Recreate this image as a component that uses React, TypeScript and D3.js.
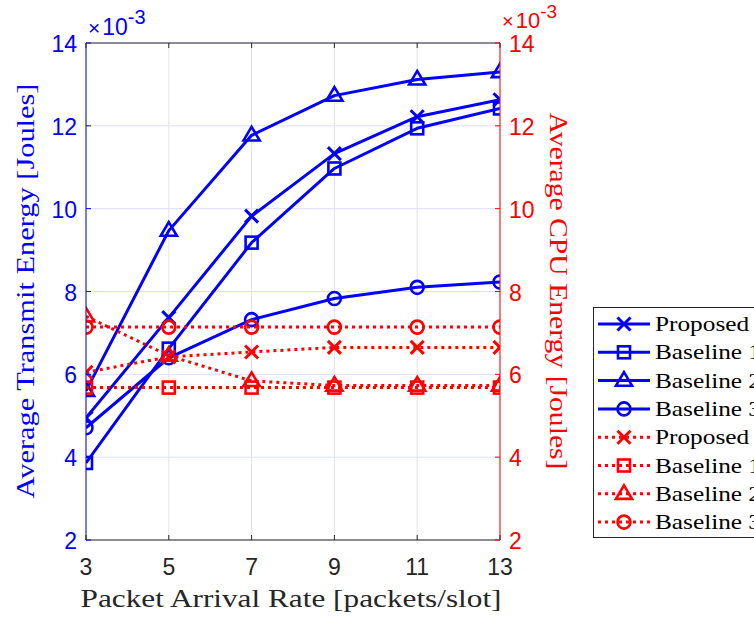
import React from "react";
import * as d3 from "d3";

const xValues = [3, 5, 7, 9, 11, 13];
const xTicks = [3, 5, 7, 9, 11, 13];
const yTicks = [2, 4, 6, 8, 10, 12, 14];

// Transmit energy (x1e-3 J), left axis
const txProposed = [4.95, 7.37, 9.82, 11.33, 12.22, 12.63];
const txBaseline1 = [3.86, 6.62, 9.18, 10.97, 11.94, 12.42];
const txBaseline2 = [5.6, 9.47, 11.77, 12.73, 13.12, 13.3];
const txBaseline3 = [4.71, 6.4, 7.32, 7.83, 8.1, 8.23];

// CPU energy (x1e-3 J), right axis
const cpuProposed = [6.05, 6.42, 6.54, 6.65, 6.65, 6.65];
const cpuBaseline1 = [5.68, 5.68, 5.68, 5.68, 5.68, 5.68];
const cpuBaseline2 = [7.4, 6.45, 5.84, 5.73, 5.73, 5.73];
const cpuBaseline3 = [7.14, 7.14, 7.14, 7.14, 7.14, 7.14];

const legendLabels = [
  "Proposed",
  "Baseline 1",
  "Baseline 2",
  "Baseline 3",
  "Proposed",
  "Baseline 1",
  "Baseline 2",
  "Baseline 3",
];

type Mk = "x" | "square" | "triangle" | "circle";

const BLUE = "#0000ff";
const RED = "#ff0000";

function Marker({ type, x, y, color }: { type: Mk; x: number; y: number; color: string }) {
  const sw = 2.6;
  if (type === "x") {
    const r = 6.5;
    return (
      <path
        d={`M${x - r},${y - r}L${x + r},${y + r}M${x - r},${y + r}L${x + r},${y - r}`}
        stroke={color}
        strokeWidth={sw + 0.4}
        fill="none"
      />
    );
  }
  if (type === "square") {
    const r = 6;
    return <rect x={x - r} y={y - r} width={2 * r} height={2 * r} stroke={color} strokeWidth={sw} fill="none" />;
  }
  if (type === "triangle") {
    const r = 8.5;
    return (
      <path
        d={`M${x},${y - r}L${x + r * 0.95},${y + r * 0.6}L${x - r * 0.95},${y + r * 0.6}Z`}
        stroke={color}
        strokeWidth={sw}
        fill="none"
        strokeLinejoin="miter"
      />
    );
  }
  return <circle cx={x} cy={y} r={6.5} stroke={color} strokeWidth={sw} fill="none" />;
}

export default function App() {
  const W = 754;
  const H = 617;
  const left = 86;
  const right = 500;
  const top = 43;
  const bottom = 540;

  const x = d3.scaleLinear().domain([3, 13]).range([left, right]);
  const yL = d3.scaleLinear().domain([2, 14]).range([bottom, top]);
  const yR = d3.scaleLinear().domain([2, 14]).range([bottom, top]);

  const series = [
    { data: txProposed, color: BLUE, mk: "x" as Mk, dotted: false, y: yL },
    { data: txBaseline1, color: BLUE, mk: "square" as Mk, dotted: false, y: yL },
    { data: txBaseline2, color: BLUE, mk: "triangle" as Mk, dotted: false, y: yL },
    { data: txBaseline3, color: BLUE, mk: "circle" as Mk, dotted: false, y: yL },
    { data: cpuProposed, color: RED, mk: "x" as Mk, dotted: true, y: yR },
    { data: cpuBaseline1, color: RED, mk: "square" as Mk, dotted: true, y: yR },
    { data: cpuBaseline2, color: RED, mk: "triangle" as Mk, dotted: true, y: yR },
    { data: cpuBaseline3, color: RED, mk: "circle" as Mk, dotted: true, y: yR },
  ];

  const tickFont = "'Liberation Sans', Arial, sans-serif";
  const latex = "'Liberation Serif', 'Times New Roman', serif";
  const SX = 1.15;

  const legX = 593;
  const legY = 307;
  const legH = 230;
  const legStep = 28.3;

  return (
    <svg width={W} height={H} style={{ position: "absolute", left: 0, top: 0, background: "#fff" }}>
      <defs>
        <clipPath id="plotClip">
          <rect x={left} y={top} width={right - left} height={bottom - top} />
        </clipPath>
      </defs>
      <rect x={0} y={0} width={W} height={H} fill="#fff" />

      {/* grid */}
      {xTicks.map((t) => (
        <line key={"gx" + t} x1={x(t)} x2={x(t)} y1={top} y2={bottom} stroke="#e3e3e3" strokeWidth={1} />
      ))}
      {yTicks.map((t) => (
        <line key={"gy" + t} x1={left} x2={right} y1={yL(t)} y2={yL(t)} stroke="#dedeff" strokeWidth={1} />
      ))}

      {/* series */}
      <g clipPath="url(#plotClip)">
        {series.map((s, i) => {
          const line = d3
            .line<number>()
            .x((_, j) => x(xValues[j]))
            .y((v) => s.y(v));
          return (
            <g key={"s" + i}>
              <path
                d={line(s.data) || ""}
                stroke={s.color}
                strokeWidth={3}
                fill="none"
                strokeDasharray={s.dotted ? "3,4" : undefined}
                strokeLinejoin="round"
              />
              {s.data.map((v, j) => (
                <Marker key={j} type={s.mk} x={x(xValues[j])} y={s.y(v)} color={s.color} />
              ))}
            </g>
          );
        })}
      </g>

      {/* axes box */}
      <line x1={left} x2={right} y1={top} y2={top} stroke="#262626" strokeWidth={1} />
      <line x1={left} x2={right} y1={bottom} y2={bottom} stroke="#262626" strokeWidth={1} />
      <line x1={left} x2={left} y1={top} y2={bottom} stroke={BLUE} strokeWidth={1} />
      <line x1={right} x2={right} y1={top} y2={bottom} stroke={RED} strokeWidth={1} />

      {/* x ticks */}
      {xTicks.map((t) => (
        <g key={"xt" + t}>
          <line x1={x(t)} x2={x(t)} y1={bottom} y2={bottom - 5} stroke="#262626" />
          <line x1={x(t)} x2={x(t)} y1={top} y2={top + 5} stroke="#262626" />
          <text x={x(t)} y={bottom + 35} textAnchor="middle" fontFamily={tickFont} fontSize={23} fill="#262626">
            {t}
          </text>
        </g>
      ))}

      {/* left y ticks */}
      {yTicks.map((t) => (
        <g key={"yl" + t}>
          <line x1={left} x2={left + 5} y1={yL(t)} y2={yL(t)} stroke={BLUE} />
          <text x={left - 9} y={yL(t) + 9} textAnchor="end" fontFamily={tickFont} fontSize={23} fill={BLUE}>
            {t}
          </text>
        </g>
      ))}
      {/* right y ticks */}
      {yTicks.map((t) => (
        <g key={"yr" + t}>
          <line x1={right} x2={right - 5} y1={yR(t)} y2={yR(t)} stroke={RED} />
          <text x={right + 9} y={yR(t) + 9} textAnchor="start" fontFamily={tickFont} fontSize={23} fill={RED}>
            {t}
          </text>
        </g>
      ))}

      {/* exponents */}
      <text x={88} y={35} fontFamily={tickFont} fontSize={23} fill={BLUE}>
        <tspan fontSize={21}>×</tspan>
        <tspan dx={2}>10</tspan>
        <tspan dy={-11} fontSize={20}>-3</tspan>
      </text>
      <text x={502} y={28} fontFamily={tickFont} fontSize={22} fill={RED}>
        <tspan fontSize={20}>×</tspan>
        <tspan dx={2}>10</tspan>
        <tspan dy={-10} fontSize={19}>-3</tspan>
      </text>

      {/* axis labels */}
      <text
        x={291}
        y={607}
        textAnchor="middle"
        fontFamily={latex}
        fontSize={26}
        fill="#262626"
        textLength={421}
        lengthAdjust="spacingAndGlyphs"
      >
        Packet Arrival Rate [packets/slot]
      </text>
      <text
        transform={`translate(34,291) rotate(-90)`}
        textAnchor="middle"
        fontFamily={latex}
        fontSize={26}
        fill={BLUE}
        textLength={415}
        lengthAdjust="spacingAndGlyphs"
      >
        Average Transmit Energy [Joules]
      </text>
      <text
        transform={`translate(550,291) rotate(90)`}
        textAnchor="middle"
        fontFamily={latex}
        fontSize={26}
        fill={RED}
        textLength={357}
        lengthAdjust="spacingAndGlyphs"
      >
        Average CPU Energy [Joules]
      </text>

      {/* legend */}
      <rect x={legX + 0.5} y={legY + 0.5} width={W} height={legH} fill="#fff" stroke="#262626" strokeWidth={1} />
      {series.map((s, i) => {
        const cy = legY + 17 + i * legStep;
        return (
          <g key={"lg" + i}>
            <line
              x1={legX + 5}
              x2={legX + 57}
              y1={cy}
              y2={cy}
              stroke={s.color}
              strokeWidth={3}
              strokeDasharray={s.dotted ? "3,4" : undefined}
            />
            <Marker type={s.mk} x={legX + 31} y={cy} color={s.color} />
            <text
              transform={`translate(${legX + 62},${cy + 7}) scale(${SX},1)`}
              fontFamily={latex}
              fontSize={22}
              fill="#000"
            >
              {legendLabels[i]}
            </text>
          </g>
        );
      })}
    </svg>
  );
}
